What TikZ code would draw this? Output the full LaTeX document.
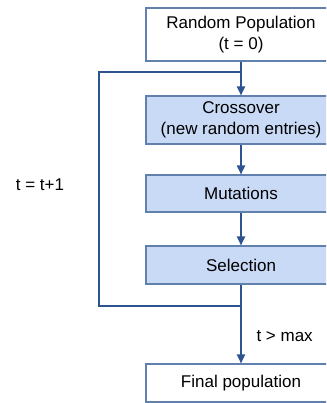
\documentclass[tikz,border=0pt]{standalone}
\usepackage{fontspec}
\setmainfont{Liberation Sans}
\usetikzlibrary{arrows.meta}
\definecolor{boxline}{HTML}{6280AE}
\definecolor{boxfill}{HTML}{C9DAF6}
\definecolor{flow}{HTML}{2D5390}
\begin{document}
\begin{tikzpicture}[x=1pt,y=-1pt,
  font=\fontsize{17}{20.5}\selectfont,
  stage/.style={draw=boxline, line width=1.1pt, minimum width=190pt, align=center, inner sep=0pt},
  plain/.style={stage, fill=white},
  work/.style={stage, fill=boxfill},
  flowline/.style={draw=flow, line width=1.8pt},
  flowarrow/.style={flowline, -{Triangle[length=9pt,width=8pt]}}]
\useasboundingbox (0,0) rectangle (326,403);
\clip (0,0) rectangle (326,403);
\fill[white] (0,0) rectangle (326,403);
% process stages
\node[plain, minimum height=53pt] (init) at (241,34.5) {Random Population\\(t = 0)};
\node[work, minimum height=48pt] (cross) at (241,120) {Crossover\\(new random entries)};
\node[work, minimum height=37pt] (mut) at (241,193.5) {Mutations};
\node[work, minimum height=38pt] (sel) at (241,265) {Selection};
\node[plain, minimum height=38pt] (final) at (241,383) {Final population};
% loop corners
\coordinate (join) at (241,72);
\coordinate (exit) at (241,306);
\coordinate (lowleft) at (99,306);
\coordinate (upleft) at (99,72);
% connectors
\draw[flowline] (init.south) -- (join);
\draw[flowarrow] (join) -- (cross.north);
\draw[flowarrow] (cross.south) -- (mut.north);
\draw[flowarrow] (mut.south) -- (sel.north);
\draw[flowline] (sel.south) -- (exit);
\draw[flowline, line join=miter] (exit) -- (lowleft) -- (upleft) -- (join);
\draw[flowarrow] (exit) -- (final.north);
% labels
\node (inc) at (40,185) {t = t+1};
\node[anchor=west] (stop) at (253,336) {t > max};
\end{tikzpicture}
\end{document}
